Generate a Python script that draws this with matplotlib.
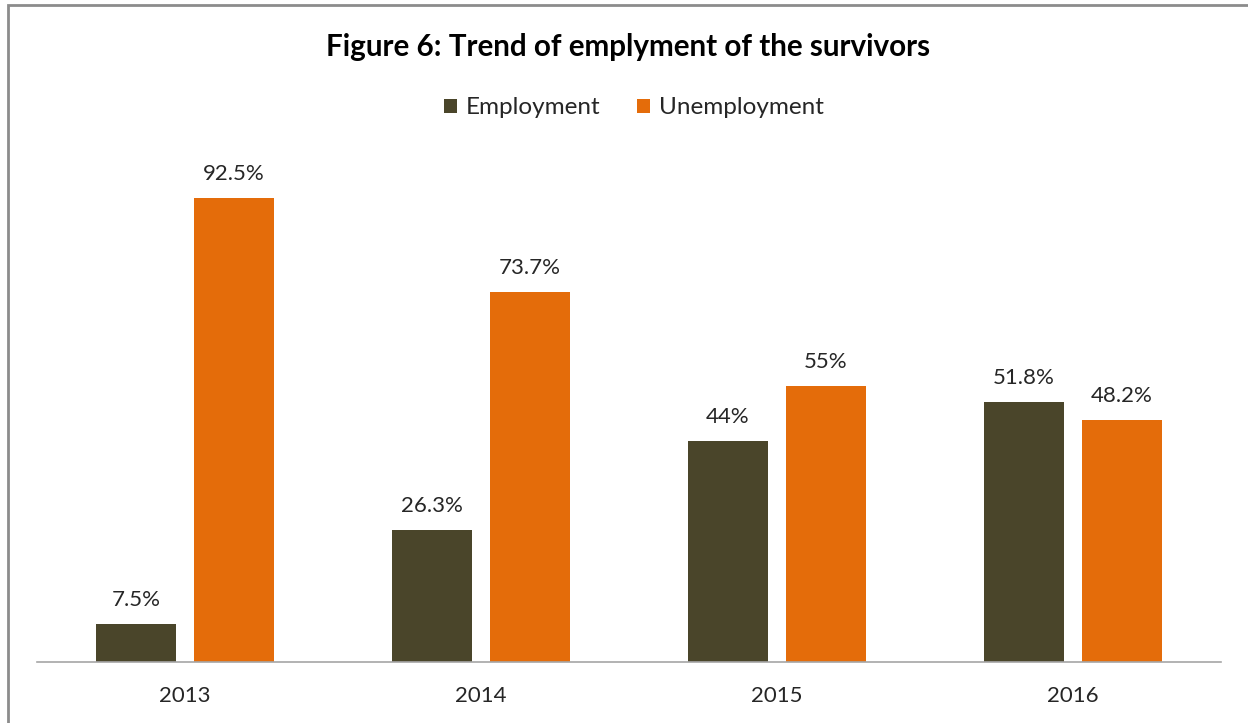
import numpy as np
import matplotlib.pyplot as plt
from matplotlib.patches import Rectangle

plt.rcParams['font.family'] = ['Lato', 'DejaVu Sans']

years = ['2013', '2014', '2015', '2016']
employment = [7.5, 26.3, 44, 51.8]
unemployment = [92.5, 73.7, 55, 48.2]
emp_labels = ['7.5%', '26.3%', '44%', '51.8%']
unemp_labels = ['92.5%', '73.7%', '55%', '48.2%']

emp_color = '#4A452A'
unemp_color = '#E46C0A'
text_color = '#262626'

fig = plt.figure(figsize=(12.48, 7.23), dpi=100)
ax = fig.add_axes([37 / 1248, 61 / 723, 1184 / 1248, 502 / 723])

x = np.arange(len(years))
w = 0.267
off = 0.1655
b1 = ax.bar(x - off, employment, w, color=emp_color, label='Employment')
b2 = ax.bar(x + off, unemployment, w, color=unemp_color, label='Unemployment')

for bars, labels in ((b1, emp_labels), (b2, unemp_labels)):
    for bar, lab in zip(bars, labels):
        ax.annotate(lab, (bar.get_x() + bar.get_width() / 2, bar.get_height()),
                    xytext=(0, 10), textcoords='offset points', ha='center',
                    va='bottom', fontsize=16, color=text_color)

ax.set_xlim(-0.5, 3.5)
ax.set_ylim(0, 100)
ax.set_xticks(x)
ax.set_xticklabels(years, fontsize=16, color=text_color)
ax.tick_params(axis='x', length=0, pad=17)
ax.set_yticks([])
for s in ('top', 'right', 'left'):
    ax.spines[s].set_visible(False)
ax.spines['bottom'].set_color('#A6A6A6')
ax.spines['bottom'].set_linewidth(1.2)

fig.text(0.503, 1 - 47 / 723, 'Figure 6: Trend of emplyment of the survivors',
         ha='center', va='center', fontsize=21.3, fontweight='bold', color='black')
fig.legend(handles=[b1, b2], loc='center', bbox_to_anchor=(0.508, 1 - 108 / 723),
           ncol=2, frameon=False, fontsize=17.5, handlelength=0.55, handleheight=0.55,
           handletextpad=0.35, columnspacing=1.5, labelcolor=text_color)

# chart frame, only top and left edges fall inside the image
fig.patches.append(Rectangle((8 / 1248, -0.1), 1.2, 1.1 - 5 / 723, transform=fig.transFigure,
                             fill=False, edgecolor='#8C8C8C', linewidth=2))

fig.savefig('out.png', dpi=100)
